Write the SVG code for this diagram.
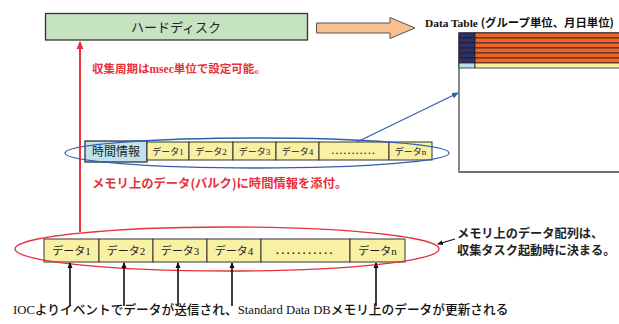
<svg xmlns="http://www.w3.org/2000/svg" width="619" height="324" viewBox="0 0 619 324">
<defs>
<style>
.jp{font-family:"Noto Sans CJK JP","Liberation Sans",sans-serif}
.ser{font-family:"Liberation Serif","Noto Sans CJK JP",serif}
.red{fill:#e8303a;font-weight:bold}
.cell{fill:#f8f0a2;stroke:#333;stroke-width:1}
.lbl{font-size:9px;fill:#222;text-anchor:middle}
.lbl2{font-size:11px;fill:#222;text-anchor:middle}
.dots{font-family:"Liberation Serif",serif;fill:#222;text-anchor:middle;font-weight:bold}
.up{stroke:#111;stroke-width:1.6;fill:none}
</style>
<marker id="ah" markerWidth="6" markerHeight="6" refX="5" refY="3" orient="auto" markerUnits="userSpaceOnUse"><path d="M0,0.5 L6,3 L0,5.5 z" fill="#111"/></marker>
<marker id="ahr" markerWidth="8" markerHeight="8" refX="7" refY="4" orient="auto" markerUnits="userSpaceOnUse"><path d="M0,0.5 L8,4 L0,7.5 z" fill="#e8303a"/></marker>
<marker id="ahb" markerWidth="7" markerHeight="7" refX="6" refY="3.5" orient="auto" markerUnits="userSpaceOnUse"><path d="M0,0.5 L7,3.5 L0,6.5 z" fill="#2f5fb0"/></marker>
</defs>
<rect width="619" height="324" fill="#fff"/>

<g id="harddisk">
<rect x="45.5" y="13.5" width="262" height="26.5" fill="#c5e2c1" stroke="#333" stroke-width="1.3"/>
<text x="176" y="32" class="jp" font-size="13" fill="#222" text-anchor="middle">ハードディスク</text>
</g>

<g id="bigarrow">
<path d="M316.5,23 L390,23 L390,17.5 L415,28 L390,38.5 L390,33 L316.5,33 z" fill="#f9bf8f" stroke="#555" stroke-width="1"/>
</g>

<g id="datatable">
<text x="425" y="27" font-size="11.4" font-weight="bold" fill="#111"><tspan class="ser">Data Table </tspan><tspan class="jp">(グループ単位、月日単位)</tspan></text>
<rect x="459" y="33" width="170" height="139" fill="#fff" stroke="#222" stroke-width="1.3"/>
<line x1="459" y1="33" x2="459" y2="172" stroke="#888" stroke-width="2"/>
<g stroke="#222" stroke-width="0.8">
<rect x="459" y="33" width="16" height="5" fill="#2f2f6a"/>
<rect x="475" y="33" width="160" height="5" fill="#f06428"/>
<rect x="459" y="38" width="16" height="5" fill="#2f2f6a"/>
<rect x="475" y="38" width="160" height="5" fill="#f06428"/>
<rect x="459" y="43" width="16" height="5" fill="#2f2f6a"/>
<rect x="475" y="43" width="160" height="5" fill="#f06428"/>
<rect x="459" y="48" width="16" height="5" fill="#2f2f6a"/>
<rect x="475" y="48" width="160" height="5" fill="#f06428"/>
<rect x="459" y="53" width="16" height="5" fill="#2f2f6a"/>
<rect x="475" y="53" width="160" height="5" fill="#f06428"/>
<rect x="459" y="58" width="16" height="5" fill="#2f2f6a"/>
<rect x="475" y="58" width="160" height="5" fill="#f06428"/>
<rect x="459" y="63" width="16" height="5" fill="#b9e1ec"/>
<rect x="475" y="63" width="160" height="5" fill="#f9eea0"/>
</g>
</g>

<g id="bulk">
<rect x="85" y="141" width="62" height="21" fill="#bfe3ec" stroke="#222" stroke-width="1.2"/>
<text x="116" y="156" class="jp" font-size="12" fill="#222" text-anchor="middle">時間情報</text>
<rect x="147" y="142" width="42" height="18" class="cell"/>
<rect x="189" y="142" width="44" height="18" class="cell"/>
<rect x="233" y="142" width="43" height="18" class="cell"/>
<rect x="276" y="142" width="43" height="18" class="cell"/>
<rect x="319" y="142" width="70" height="18" class="cell"/>
<rect x="389" y="142" width="43" height="18" class="cell"/>
<text x="168" y="155" class="lbl"><tspan class="jp">データ</tspan><tspan class="ser">1</tspan></text>
<text x="211" y="155" class="lbl"><tspan class="jp">データ</tspan><tspan class="ser">2</tspan></text>
<text x="254.5" y="155" class="lbl"><tspan class="jp">データ</tspan><tspan class="ser">3</tspan></text>
<text x="297.5" y="155" class="lbl"><tspan class="jp">データ</tspan><tspan class="ser">4</tspan></text>
<text x="354" y="154" class="dots" font-size="9" letter-spacing="1.8">...........</text>
<text x="410.5" y="155" class="lbl"><tspan class="jp">データ</tspan><tspan class="ser">n</tspan></text>
<ellipse cx="257" cy="153" rx="192" ry="15" fill="none" stroke="#2f5fb0" stroke-width="1.3"/>
</g>

<g id="memory">
<rect x="44" y="239" width="55" height="23" class="cell"/>
<rect x="99" y="239" width="54" height="23" class="cell"/>
<rect x="153" y="239" width="54" height="23" class="cell"/>
<rect x="207" y="239" width="54" height="23" class="cell"/>
<rect x="261" y="239" width="89" height="23" class="cell"/>
<rect x="350" y="239" width="55" height="23" class="cell"/>
<text x="71.5" y="255" class="lbl2"><tspan class="jp">データ</tspan><tspan class="ser">1</tspan></text>
<text x="126" y="255" class="lbl2"><tspan class="jp">データ</tspan><tspan class="ser">2</tspan></text>
<text x="180" y="255" class="lbl2"><tspan class="jp">データ</tspan><tspan class="ser">3</tspan></text>
<text x="234" y="255" class="lbl2"><tspan class="jp">データ</tspan><tspan class="ser">4</tspan></text>
<text x="305.5" y="254" class="dots" font-size="11" letter-spacing="2.6">...........</text>
<text x="377.5" y="255" class="lbl2"><tspan class="jp">データ</tspan><tspan class="ser">n</tspan></text>
<ellipse cx="227" cy="249" rx="212" ry="22" fill="none" stroke="#e8303a" stroke-width="1.3"/>
</g>

<g id="labels">
<text x="92" y="73" class="jp red" font-size="11.5">収集周期は<tspan class="ser">msec</tspan>単位で設定可能。</text>
<text x="92" y="188" class="jp red" font-size="12.3">メモリ上のデータ(バルク)に時間情報を添付。</text>
<text x="457" y="238" class="jp" font-size="12.2" font-weight="bold" fill="#222">メモリ上のデータ配列は、</text>
<text x="457" y="255" class="jp" font-size="12.2" font-weight="bold" fill="#222">収集タスク起動時に決まる。</text>
<text x="13" y="314" class="jp" font-size="12.7" font-weight="500" fill="#111"><tspan class="ser">IOC</tspan>よりイベントでデータが送信され、<tspan class="ser">Standard Data DB</tspan>メモリ上のデータが更新される</text>
</g>

<g id="connectors">
<line x1="80" y1="232" x2="80" y2="42" stroke="#e8303a" stroke-width="2" marker-end="url(#ahr)"/>
<line x1="357" y1="142" x2="458" y2="93" stroke="#2f5fb0" stroke-width="1.2" marker-end="url(#ahb)"/>
<line x1="455" y1="239" x2="438" y2="244" stroke="#111" stroke-width="1.2" marker-end="url(#ah)"/>
<line x1="70" y1="306" x2="70" y2="263" class="up" marker-end="url(#ah)"/>
<line x1="124" y1="306" x2="124" y2="263" class="up" marker-end="url(#ah)"/>
<line x1="178" y1="306" x2="178" y2="263" class="up" marker-end="url(#ah)"/>
<line x1="232" y1="306" x2="232" y2="263" class="up" marker-end="url(#ah)"/>
<line x1="376" y1="306" x2="376" y2="263" class="up" marker-end="url(#ah)"/>
</g>
</svg>
